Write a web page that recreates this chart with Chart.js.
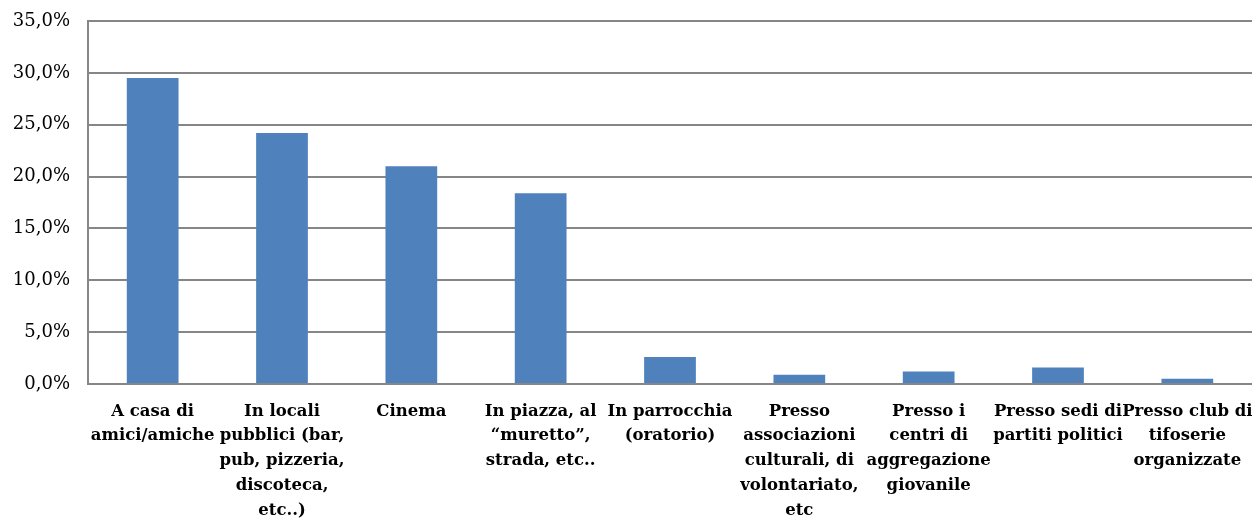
<!DOCTYPE html>
<html>
<head>
<meta charset="utf-8">
<script src="https://cdn.jsdelivr.net/npm/chart.js@4/dist/chart.umd.min.js"></script>
<style>
    html, body { margin: 0; padding: 0; background: #fff; overflow: hidden; }
    #wrap { width: 1252px; height: 519px; }
</style>
</head>
<body>
<div id="wrap"><canvas id="chart"></canvas></div>
<script>
// ===== Data =====
const categories = [
    ['A casa di', 'amici/amiche'],
    ['In locali', 'pubblici (bar,', 'pub, pizzeria,', 'discoteca,', 'etc..)'],
    ['Cinema'],
    ['In piazza, al', '\u201Cmuretto\u201D,', 'strada, etc..'],
    ['In parrocchia', '(oratorio)'],
    ['Presso', 'associazioni', 'culturali, di', 'volontariato,', 'etc'],
    ['Presso i', 'centri di', 'aggregazione', 'giovanile'],
    ['Presso sedi di', 'partiti politici'],
    ['Presso club di', 'tifoserie', 'organizzate']
];
const percentages = [29.5, 24.2, 21.0, 18.4, 2.6, 0.9, 1.2, 1.6, 0.5];
const yTicks = [0, 5, 10, 15, 20, 25, 30, 35];

const barColor = '#4F81BD';
const gridColor = '#868686';
const serif = '"DejaVu Serif", "Liberation Serif", serif';

// ===== Chart =====
new Chart(document.getElementById('chart'), {
    type: 'bar',
    data: {
        labels: categories,
        datasets: [{
            data: percentages,
            backgroundColor: barColor,
            categoryPercentage: 1,
            barPercentage: 0.4
        }]
    },
    options: {
        responsive: true,
        maintainAspectRatio: false,
        animation: false,
        layout: { padding: { top: 21, right: 0, left: 0, bottom: 0 } },
        plugins: {
            legend: { display: false },
            tooltip: { enabled: false }
        },
        scales: {
            x: {
                grid: { display: false, drawTicks: false },
                border: { color: gridColor, width: 2 },
                ticks: {
                    color: '#000',
                    font: { family: serif, size: 16.5, weight: 'bold', lineHeight: 1.5 },
                    maxRotation: 0,
                    autoSkip: false,
                    padding: 15
                },
                afterFit: function(scale) {
                    scale.height = 135;
                    scale.paddingLeft = 0;
                    scale.paddingRight = 0;
                }
            },
            y: {
                min: 0,
                max: 35,
                afterBuildTicks: function(scale) {
                    scale.ticks = yTicks.map(v => ({ value: v }));
                },
                grid: { color: gridColor, lineWidth: 2, drawTicks: false },
                border: { color: gridColor, width: 2 },
                ticks: {
                    color: '#000',
                    font: { family: serif, size: 18 },
                    padding: 18,
                    callback: function(value) {
                        return value.toFixed(1).replace('.', ',') + '%';
                    }
                },
                afterFit: function(scale) {
                    scale.width = 88;
                    scale.paddingTop = 0;
                    scale.paddingBottom = 0;
                }
            }
        }
    }
});
</script>
</body>
</html>
